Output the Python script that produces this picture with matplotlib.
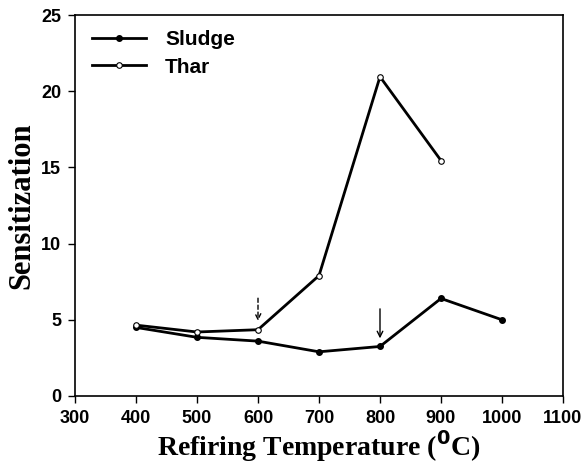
import matplotlib

matplotlib.use("Agg")
import matplotlib.pyplot as plt

# Sensitization vs refiring temperature
sludge_temp = [400, 500, 600, 700, 800, 900, 1000]
sludge_sens = [4.5, 3.85, 3.6, 2.9, 3.25, 6.4, 5.0]

thar_temp = [400, 500, 600, 700, 800, 900]
thar_sens = [4.65, 4.2, 4.35, 7.9, 20.95, 15.45]

x_ticks = [300, 400, 500, 600, 700, 800, 900, 1000, 1100]
y_ticks = [0, 5, 10, 15, 20, 25]

SANS = "Liberation Sans"
SERIF = "Liberation Serif"

fig = plt.figure(figsize=(5.84, 4.74), dpi=100)
ax = fig.add_axes([75 / 584, 1 - 396 / 474, 488 / 584, 381 / 474])

ax.plot(sludge_temp, sludge_sens, color="black", linewidth=2, marker="o",
        markersize=4, markerfacecolor="black", markeredgecolor="black",
        label="Sludge")
ax.plot(thar_temp, thar_sens, color="black", linewidth=2, marker="o",
        markersize=4, markerfacecolor="white", markeredgecolor="black",
        markeredgewidth=0.8, label="Thar")

# arrows marking the onset points
ax.annotate("", xy=(600, 4.75), xytext=(600, 6.6),
            arrowprops=dict(arrowstyle="->", color="black", lw=1,
                            linestyle=(0, (3, 2)), mutation_scale=10))
ax.annotate("", xy=(800, 3.6), xytext=(800, 5.9),
            arrowprops=dict(arrowstyle="->", color="black", lw=1,
                            mutation_scale=10))

ax.set_xlim(300, 1100)
ax.set_ylim(0, 25)
ax.set_xticks(x_ticks)
ax.set_yticks(y_ticks)
ax.tick_params(direction="out", length=5, width=1, top=False, right=False,
               pad=5)
for lbl in ax.get_xticklabels() + ax.get_yticklabels():
    lbl.set_fontfamily(SANS)
    lbl.set_fontweight("bold")
    lbl.set_fontsize(13)
for s in ax.spines.values():
    s.set_linewidth(1.2)

ax.set_xlabel(r"Refiring Temperature ($\mathbf{^{0}}$C)", fontfamily=SERIF,
              fontweight="bold", fontsize=20, labelpad=1)
ax.set_ylabel("Sensitization", fontfamily=SERIF, fontweight="bold",
              fontsize=22, labelpad=3)

ax.legend(loc="upper left", bbox_to_anchor=(0.035, 0.96), frameon=False,
          borderaxespad=0, borderpad=0,
          prop={"family": SANS, "weight": "bold", "size": 15},
          handlelength=2.6, handletextpad=0.9, labelspacing=0.4)

fig.savefig("out.png", dpi=100)
